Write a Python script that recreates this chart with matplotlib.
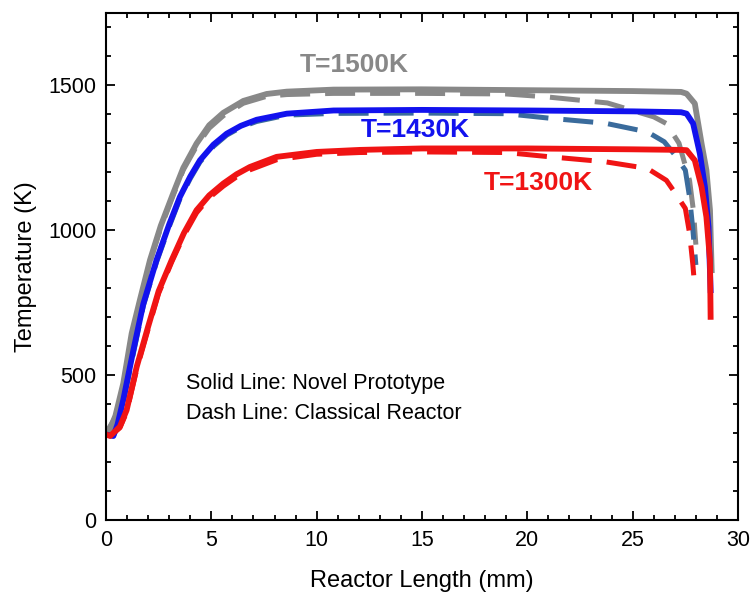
import numpy as np
import matplotlib
matplotlib.use("Agg")
import matplotlib.pyplot as plt
from matplotlib.ticker import MultipleLocator

plt.rcParams['font.family'] = ['Liberation Sans', 'DejaVu Sans']

# datos
# T=1500K, linea continua (prototipo)
x_1500 = [0, 0.2, 0.45, 0.82, 1.22, 1.61, 2.09, 2.6, 3.19, 3.67, 4.3, 4.9, 5.57, 6.52,
          7.63, 8.58, 10.8, 15, 20, 25, 27.3, 27.56, 27.95, 28.27, 28.5, 28.67, 28.75]
y_1500 = [300, 315, 360, 471, 644, 759, 897, 1015, 1127, 1215, 1299, 1362, 1405, 1446,
          1470, 1478, 1485, 1486, 1483, 1480, 1477, 1471, 1437, 1299, 1207, 1069, 862]

# T=1430K, linea continua
x_1430 = [0, 0.35, 0.55, 0.82, 1.3, 1.77, 2.4, 3.0, 3.51, 4.0, 4.46, 5.1, 5.73, 6.4, 7.15,
          8.58, 10.8, 15, 20, 25, 27.3, 27.56, 27.87, 28.19, 28.43, 28.6, 28.7]
y_1430 = [295, 290, 330, 414, 586, 745, 897, 1020, 1115, 1185, 1241, 1295, 1333, 1360, 1381,
          1402, 1413, 1415, 1413, 1410, 1407, 1402, 1368, 1264, 1149, 1011, 793]

# T=1300K, linea continua
x_1300 = [0, 0.2, 0.66, 0.98, 1.46, 2.0, 2.5, 3.12, 3.7, 4.3, 4.9, 5.57, 6.2, 6.83, 8.1,
          10.0, 12.05, 15, 20, 25, 27.3, 27.56, 27.95, 28.27, 28.5, 28.67, 28.7]
y_1300 = [295, 290, 322, 379, 529, 667, 790, 897, 990, 1069, 1120, 1161, 1193, 1218, 1253,
          1270, 1277, 1282, 1282, 1279, 1277, 1276, 1241, 1149, 1046, 897, 701]

# lineas discontinuas (reactor clasico)
xd_1500 = [0, 0.45, 0.82, 1.22, 1.61, 2.09, 2.6, 3.19, 3.67, 4.3, 4.9, 5.57, 6.52, 7.63,
           8.58, 10.8, 15, 19, 20.9, 23.8, 26.0, 26.6, 27.2, 27.56, 27.7, 27.9, 27.95, 28.0]
yd_1500 = [300, 355, 465, 635, 750, 890, 1008, 1120, 1208, 1290, 1352, 1395, 1438, 1462,
           1468, 1472, 1472, 1470, 1460, 1439, 1391, 1368, 1300, 1207, 1172, 1058, 1000, 950]

xd_1430 = [0, 0.35, 0.55, 0.82, 1.3, 1.77, 2.4, 3.0, 3.51, 4.0, 4.46, 5.1, 5.73, 6.4, 7.15,
           8.58, 10.8, 15, 19, 21.1, 23.7, 25.7, 26.5, 27.0, 27.5, 27.7, 27.86, 27.95, 28.0]
yd_1430 = [295, 290, 325, 405, 575, 738, 890, 1012, 1108, 1178, 1235, 1289, 1328, 1355, 1375,
           1397, 1403, 1404, 1402, 1386, 1369, 1339, 1305, 1260, 1207, 1115, 1000, 924, 880]

xd_1300 = [0, 0.2, 0.66, 0.98, 1.46, 2.0, 2.5, 3.12, 3.7, 4.3, 4.9, 5.57, 6.2, 6.83, 8.1,
           10.0, 12.05, 15, 19, 21.1, 23.7, 25.7, 26.6, 27.0, 27.5, 27.7, 27.86, 27.95]
yd_1300 = [295, 290, 318, 372, 520, 658, 782, 890, 982, 1060, 1112, 1152, 1184, 1208, 1243,
           1262, 1268, 1270, 1268, 1253, 1236, 1213, 1172, 1130, 1075, 990, 879, 800]

c_gris = '#888888'
c_azul = '#1212ee'
c_rojo = '#f01414'
c_azul_d = '#3a6b9c'

fig = plt.figure(figsize=(7.5, 5.96), dpi=100)
ax = fig.add_axes([0.1413, 0.1275, 0.8427, 0.851])

lw = 4.2
dash = (6, 3)
# primero las discontinuas, luego las continuas encima
ax.plot(xd_1500, yd_1500, color=c_gris, lw=3.6, dashes=dash)
ax.plot(xd_1430, yd_1430, color=c_azul_d, lw=3.6, dashes=dash)
ax.plot(xd_1300, yd_1300, color=c_rojo, lw=3.6, dashes=dash)
ax.plot(x_1500, y_1500, color=c_gris, lw=lw, solid_joinstyle='round')
ax.plot(x_1430, y_1430, color=c_azul, lw=lw, solid_joinstyle='round')
ax.plot(x_1300, y_1300, color=c_rojo, lw=lw, solid_joinstyle='round')

# etiquetas de temperatura
ax.text(11.8, 1569, 'T=1500K', color=c_gris, fontsize=19, fontweight='bold', ha='center', va='center')
ax.text(14.7, 1345, 'T=1430K', color=c_azul, fontsize=19, fontweight='bold', ha='center', va='center')
ax.text(20.5, 1162, 'T=1300K', color=c_rojo, fontsize=19, fontweight='bold', ha='center', va='center')

ax.text(3.8, 472, 'Solid Line: Novel Prototype', fontsize=15.5, ha='left', va='center')
ax.text(3.8, 366, 'Dash Line: Classical Reactor', fontsize=15.5, ha='left', va='center')

ax.set_xlim(0, 30)
ax.set_ylim(0, 1750)
ax.xaxis.set_major_locator(MultipleLocator(5))
ax.xaxis.set_minor_locator(MultipleLocator(1))
ax.yaxis.set_major_locator(MultipleLocator(500))
ax.yaxis.set_minor_locator(MultipleLocator(100))
ax.tick_params(which='both', direction='in', top=True, right=True, width=1.3, labelsize=15.5)
ax.tick_params(which='major', length=6.5, pad=7)
ax.tick_params(which='minor', length=3.5)
for s in ax.spines.values():
    s.set_linewidth(1.5)

ax.set_xlabel('Reactor Length (mm)', fontsize=17, labelpad=14)
ax.set_ylabel('Temperature (K)', fontsize=17, labelpad=8)

fig.savefig('out.png', dpi=100)
